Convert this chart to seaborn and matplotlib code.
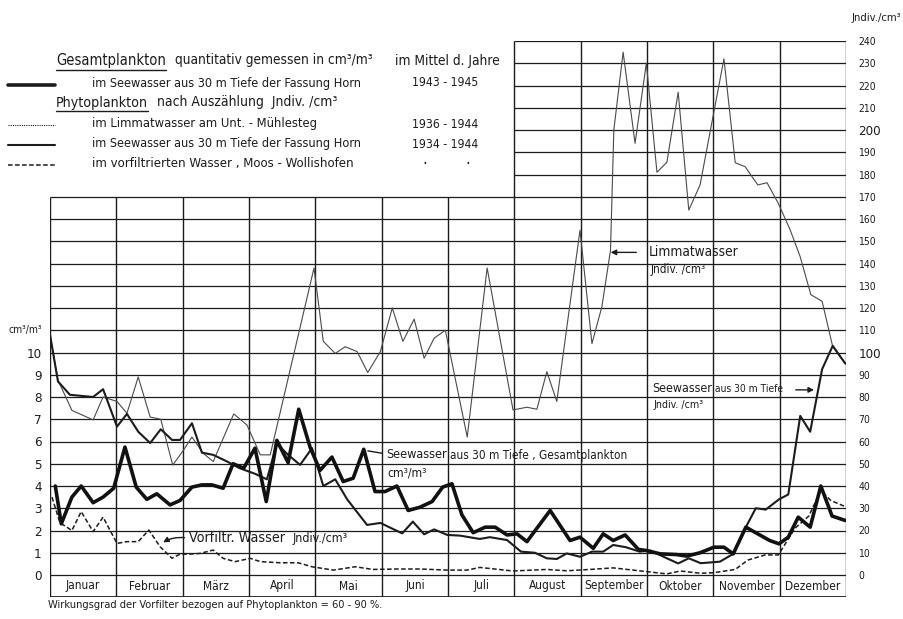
import matplotlib
matplotlib.use("Agg")
import numpy as np
import seaborn as sns
import matplotlib.pyplot as plt
from matplotlib.lines import Line2D

months = ["Januar", "Februar", "März", "April", "Mai", "Juni", "Juli",
          "August", "September", "Oktober", "November", "Dezember"]

# Gesamtplankton, Seewasser 30 m Tiefe, cm3/m3 (x in Monaten ab 1. Januar)
gesamt_x = [0.08, 0.17, 0.33, 0.47, 0.65, 0.80, 0.96, 1.13, 1.30, 1.46, 1.61, 1.81,
            1.96, 2.14, 2.29, 2.44, 2.61, 2.76, 2.92, 3.09, 3.26, 3.42, 3.59, 3.75,
            3.92, 4.07, 4.25, 4.42, 4.57, 4.73, 4.90, 5.05, 5.23, 5.40, 5.58, 5.76,
            5.92, 6.06, 6.21, 6.38, 6.56, 6.71, 6.89, 7.04, 7.19, 7.54, 7.84, 7.99,
            8.19, 8.34, 8.49, 8.67, 8.87, 8.99, 9.20, 9.44, 9.60, 9.80, 10.01, 10.16,
            10.30, 10.49, 10.70, 10.85, 10.99, 11.13, 11.28, 11.46, 11.62, 11.79, 11.99]
gesamt_y = [4.0, 2.3, 3.5, 4.0, 3.25, 3.5, 3.9, 5.75, 3.95, 3.4, 3.65, 3.15,
            3.35, 3.95, 4.05, 4.05, 3.9, 5.0, 4.8, 5.7, 3.3, 6.05, 5.05, 7.45,
            5.75, 4.7, 5.3, 4.2, 4.35, 5.65, 3.75, 3.75, 4.0, 2.9, 3.05, 3.3,
            3.95, 4.1, 2.7, 1.9, 2.15, 2.15, 1.8, 1.85, 1.5, 2.9, 1.55, 1.7,
            1.2, 1.85, 1.55, 1.8, 1.15, 1.1, 0.95, 0.92, 0.85, 1.0, 1.25, 1.25,
            0.95, 2.15, 1.8, 1.55, 1.4, 1.7, 2.6, 2.15, 4.0, 2.65, 2.45]

# Phytoplankton Jndiv./cm3
limmat_x = [0.00, 0.12, 0.33, 0.65, 0.80, 1.01, 1.16, 1.33, 1.51, 1.67, 1.85, 2.01,
            2.14, 2.31, 2.46, 2.77, 2.97, 3.17, 3.32, 3.98, 4.12, 4.30, 4.45, 4.63,
            4.79, 4.98, 5.16, 5.32, 5.49, 5.64, 5.79, 5.96, 6.29, 6.59, 6.98, 7.19,
            7.34, 7.49, 7.64, 7.99, 8.17, 8.32, 8.45, 8.50, 8.64, 8.82, 8.99, 9.15,
            9.30, 9.47, 9.63, 9.80, 10.16, 10.33, 10.48, 10.67, 10.81, 10.98, 11.16,
            11.31, 11.47, 11.64, 11.80, 11.99]
limmat_y = [108, 87.6, 74, 69.7, 80, 78, 72.7, 89, 71, 70, 49.4, 56,
            62, 54.7, 51, 72.4, 67.4, 54, 54, 138, 105, 99.6, 102.6, 100.4,
            91, 100.4, 120, 105, 115, 97.4, 106.4, 110, 62, 138, 74.2, 75.4,
            74.5, 91.4, 78, 155, 104, 120.6, 146, 200, 235, 194, 230, 181,
            185.5, 217, 164, 175.3, 232, 185.3, 183.5, 175.3, 176.3, 167, 155,
            143, 126, 123, 102.6, 95]

seewasser_x = [0.00, 0.12, 0.30, 0.65, 0.80, 1.01, 1.16, 1.33, 1.51, 1.67, 1.84, 1.96,
               2.14, 2.29, 2.46, 2.67, 2.86, 3.09, 3.27, 3.42, 3.59, 3.77, 3.95, 4.12,
               4.30, 4.48, 4.78, 4.98, 5.31, 5.47, 5.64, 5.79, 5.99, 6.18, 6.48, 6.63,
               6.89, 7.10, 7.31, 7.49, 7.64, 7.79, 7.99, 8.17, 8.34, 8.49, 8.68, 8.89,
               9.05, 9.30, 9.47, 9.63, 9.81, 10.10, 10.30, 10.49, 10.64, 10.79, 10.99,
               11.13, 11.31, 11.46, 11.64, 11.80, 11.99]
seewasser_y = [108, 87, 81, 80, 83.5, 66.7, 72.4, 64.4, 59.3, 65.5, 60.7, 60.7,
               68.2, 55, 54, 51, 48, 45.5, 43, 59, 54, 49.5, 57, 40,
               43, 34, 22.5, 23.4, 18.7, 24, 18.3, 20.5, 18, 17.7, 16.2, 17,
               15.7, 10.5, 10, 7.5, 7.2, 9.7, 8.2, 10.5, 10.5, 13.5, 12.5, 10.5,
               11, 7.5, 5.2, 7.5, 5.3, 6, 9.5, 21.5, 30, 29.4, 34,
               36.2, 71.5, 64.4, 92.5, 103, 95]

vorfilt_x = [0.03, 0.15, 0.33, 0.47, 0.65, 0.80, 1.01, 1.16, 1.33, 1.49, 1.66, 1.84,
             1.96, 2.11, 2.26, 2.46, 2.61, 2.79, 3.02, 3.17, 3.47, 3.74, 3.95, 4.27,
             4.60, 4.87, 5.23, 5.58, 5.99, 6.29, 6.48, 6.98, 7.49, 7.79, 8.14, 8.49,
             8.79, 9.00, 9.30, 9.50, 9.80, 10.00, 10.33, 10.52, 10.78, 10.98, 11.23,
             11.44, 11.62, 11.77, 11.99]
vorfilt_y = [35, 23.5, 20, 28.5, 19.5, 26, 14.2, 15, 15, 20.2, 12.7, 7.5,
             9.4, 9.4, 9.7, 11.2, 7.5, 6, 7.5, 6, 5.5, 5.5, 3.7, 2.2,
             3.7, 2.5, 2.7, 2.7, 2.2, 2.2, 3.4, 1.8, 2.5, 1.9, 2.5, 3.2,
             2.2, 1.5, 0.5, 1.8, 0.8, 1.0, 2.5, 6.7, 9, 9, 21,
             26.5, 38, 33.5, 30.7]

left_ticks = list(range(0, 11))
right_ticks = list(range(0, 250, 10))

sns.set_style("white")
plt.rcParams['font.family'] = ['Liberation Sans Narrow', 'DejaVu Sans']
plt.rcParams['font.stretch'] = 'condensed'
ink = "#1c1c1c"
W, H = 904, 619

fig = plt.figure(figsize=(W / 100, H / 100), dpi=100)
band = 22 / 2.225
ax = fig.add_axes([50 / W, (H - 597) / H, 796 / W, 556 / H])
ax2 = ax.twinx()
ax.set_xlim(0, 12)
ax2.set_xlim(0, 12)
ax.set_ylim(-band / 10, 24)
ax2.set_ylim(-band, 240)
for a in (ax, ax2):
    for s in a.spines.values():
        s.set_visible(False)
    a.set_xticks([])

fits = []  # (text, width in px as in the original)

# grid
ax2.hlines(right_ticks[:18], 0, 12, color=ink, lw=0.9)
ax2.hlines(right_ticks[18:], 7, 12, color=ink, lw=0.9)
ax2.hlines(-band, 0, 12, color=ink, lw=1.3)
ax2.vlines(range(0, 13), -band, 170, color=ink, lw=1.0)
ax2.vlines(range(7, 13), 170, 240, color=ink, lw=1.0)
month_texts = [ax2.text(i + 0.5, -band / 2, m, ha="center", va="center", fontsize=9, color=ink)
               for i, m in enumerate(months)]

# series
sns.lineplot(x=limmat_x, y=limmat_y, ax=ax2, color="#4a4a4a", lw=0.8, estimator=None, sort=False)
sns.lineplot(x=seewasser_x, y=seewasser_y, ax=ax2, color=ink, lw=1.5, estimator=None, sort=False)
sns.lineplot(x=vorfilt_x, y=vorfilt_y, ax=ax2, color=ink, lw=1.1, linestyle=(0, (3, 1.6)),
             estimator=None, sort=False)
sns.lineplot(x=gesamt_x, y=gesamt_y, ax=ax, color="#111111", lw=2.6, estimator=None, sort=False)
ax.set_zorder(ax2.get_zorder() + 1)
ax.patch.set_visible(False)

# axis labels
ax.set_yticks(left_ticks)
ax.set_yticklabels([str(t) for t in left_ticks], fontsize=9.5, color=ink)
ax.tick_params(axis="y", length=0, pad=6)
ax.set_ylabel("")
ax2.set_yticks(right_ticks)
ax2.set_yticklabels([str(t) for t in right_ticks], fontsize=7.5, color=ink)
ax2.tick_params(axis="y", length=0, pad=9)
for lab in ax2.get_yticklabels():
    if lab.get_text() in ("100", "200"):
        lab.set_fontsize(9.5)
ax2.set_ylabel("")
fits.append((ax.text(-0.12, 11, "cm³/m³", ha="right", va="center", fontsize=9.5, color=ink), 34))
fits.append((fig.text(876 / W, 1 - 18 / H, "Jndiv./cm³", ha="center", va="center",
                      fontsize=10, color=ink), 50))


def atext(x, y, s, width, size=10):
    t = ax2.text(x, y, s, va="center", fontsize=size, color=ink)
    fits.append((t, width))
    return t


# annotations
atext(9.02, 145, "Limmatwasser", 89, 12.5)
atext(9.05, 137.5, "Jndiv. /cm³", 55, 8)
ax2.annotate("", xy=(8.41, 145), xytext=(8.88, 145),
             arrowprops=dict(arrowstyle="-|>", lw=1, color=ink, mutation_scale=8))
atext(5.07, 54.2, "Seewasser", 61, 11)
atext(6.03, 53.9, "aus 30 m Tiefe , Gesamtplankton", 177, 10)
atext(5.08, 46, "cm³/m³", 40, 9)
ax2.annotate("", xy=(4.75, 56), xytext=(5.05, 54.5),
             arrowprops=dict(arrowstyle="-", lw=1, color=ink))
atext(9.08, 83.8, "Seewasser", 60, 11)
atext(10.03, 83.5, "aus 30 m Tiefe", 68, 10)
atext(9.09, 76.4, "Jndiv. /cm³", 50, 8)
ax2.annotate("", xy=(11.56, 83.2), xytext=(11.2, 83.2),
             arrowprops=dict(arrowstyle="-|>", lw=1, color=ink, mutation_scale=8))
atext(2.10, 16.6, "Vorfiltr. Wasser", 96, 11.5)
atext(3.66, 16.6, "Jndiv./cm³", 55, 8.5)
ax2.annotate("", xy=(1.67, 14), xytext=(2.07, 16.6),
             arrowprops=dict(arrowstyle="-|>", lw=1, color=ink, mutation_scale=8,
                             connectionstyle="arc3,rad=0.2"))


# legend block
def ftext(px, py, s, width, **kw):
    t = fig.text(px / W, 1 - py / H, s, va="center", color=ink, **kw)
    fits.append((t, width))
    return t


def sample(py, **kw):
    fig.add_artist(Line2D([8 / W, 55 / W], [1 - py / H] * 2, transform=fig.transFigure,
                          color=ink, **kw))


heads = [ftext(56, 61, "Gesamtplankton", 109, fontsize=12),
         ftext(56, 103, "Phytoplankton", 92, fontsize=12)]
ftext(175, 60, "quantitativ gemessen in cm³/m³", 198, fontsize=10)
ftext(395, 61, "im Mittel d. Jahre", 105, fontsize=10)
ftext(92, 83, "im Seewasser aus 30 m Tiefe der Fassung Horn", 271, fontsize=10)
ftext(445, 83, "1943 - 1945", 66, fontsize=10, ha="center")
ftext(157, 102, "nach Auszählung  Jndiv. /cm³", 181, fontsize=10)
ftext(92, 124, "im Limmatwasser am Unt. - Mühlesteg", 225, fontsize=10)
ftext(445, 124, "1936 - 1944", 66, fontsize=10, ha="center")
ftext(92, 144, "im Seewasser aus 30 m Tiefe der Fassung Horn", 271, fontsize=10)
ftext(445, 144, "1934 - 1944", 66, fontsize=10, ha="center")
ftext(92, 164, "im vorfiltrierten Wasser , Moos - Wollishofen", 260, fontsize=10)
fig.text(425 / W, 1 - 164 / H, "·", fontsize=12, ha="center", va="center", color=ink)
fig.text(468 / W, 1 - 164 / H, "·", fontsize=12, ha="center", va="center", color=ink)
sample(85, lw=2.6)
sample(125, lw=0.8, linestyle=(0, (1, 1)))
sample(145, lw=1.5)
sample(165, lw=1.1, linestyle=(0, (3, 1.6)))

ftext(48, 605, "Wirkungsgrad der Vorfilter bezogen auf Phytoplankton = 60 - 90 %.", 337,
      fontsize=9.5)

# shrink texts to the widths they have in the original
fig.canvas.draw()
renderer = fig.canvas.get_renderer()
for t, w in fits:
    t.set_fontsize(t.get_fontsize() * w / t.get_window_extent(renderer).width)
sept = month_texts[8]
msize = sept.get_fontsize() * 59 / sept.get_window_extent(renderer).width
for t in month_texts:
    t.set_fontsize(msize)

fig.canvas.draw()
for t in heads:
    bb = t.get_window_extent(renderer)
    fig.add_artist(Line2D([bb.x0 / W, bb.x1 / W], [(bb.y0 - 1) / H] * 2,
                          transform=fig.transFigure, color=ink, lw=1))

fig.savefig("out.png", dpi=100)
